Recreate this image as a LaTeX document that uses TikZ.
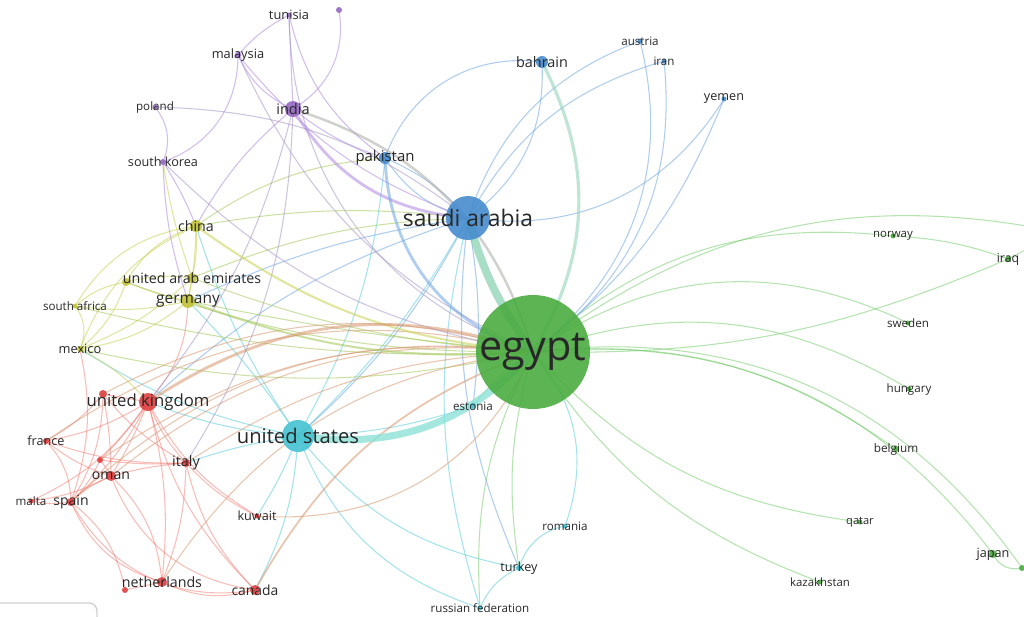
\documentclass[tikz,border=0pt]{standalone}
\usepackage{fontspec}
\setmainfont{Open Sans}
\usetikzlibrary{backgrounds}
% node colours
\definecolor{cgreen}{RGB}{75,172,65}
\definecolor{cblue}{RGB}{70,140,205}
\definecolor{ccyan}{RGB}{70,195,210}
\definecolor{cred}{RGB}{222,65,65}
\definecolor{cpurple}{RGB}{150,105,195}
\definecolor{cyellow}{RGB}{195,195,55}
% link colours
\definecolor{egreen}{RGB}{120,205,110}
\definecolor{eblue}{RGB}{110,165,225}
\definecolor{ecyan}{RGB}{90,205,220}
\definecolor{eyellow}{RGB}{200,210,80}
\definecolor{eolive}{RGB}{165,200,90}
\definecolor{ered}{RGB}{240,110,100}
\definecolor{ebrown}{RGB}{215,150,110}
\definecolor{epurple}{RGB}{175,135,225}
\definecolor{epurpgray}{RGB}{165,150,200}
\definecolor{egray}{RGB}{170,170,165}
\definecolor{eteal}{RGB}{140,210,180}
\definecolor{eusband}{RGB}{140,225,215}
\definecolor{txtgray}{RGB}{40,40,40}
\begin{document}
\begin{tikzpicture}[x=0.2mm,y=0.2mm,
country/.style={circle,inner sep=0pt,minimum size=#1*0.4mm,fill opacity=0.9},
lbl/.style={font=\fontsize{#1}{#1}\selectfont,text=txtgray,inner sep=0pt,fill opacity=1,text opacity=1},
link/.style={line width=0.6pt,draw opacity=0.55},
uibox/.style={draw=black!18,line width=0.8pt}]
\useasboundingbox (0,0) rectangle (1024,-617);

% unlabelled dots
\foreach \n/\x/\y/\r/\c in {purpdot/339/10/3/cpurple, uaedot/126/282/4/cyellow,
  ukdot/103/394/4/cred, reddot/100/460/3/cred, nlddot/125/590/3/cred,
  grndot/1022/568/3/cgreen}
  \node[country=\r,fill=\c] (\n) at (\x,-\y) {};

% countries
\foreach \n/\x/\y/\r/\c/\s/\l in {
  egypt/533/352/57/cgreen/23.5/egypt,
  saudi/468/218/22/cblue/13/saudi arabia,
  usa/298/436/16/ccyan/11.5/united states,
  uk/148/402/9/cred/9.5/united kingdom,
  india/293/109/8/cpurple/8.3/india,
  pakistan/385/158/6/cblue/8.5/pakistan,
  bahrain/542/62/6/cblue/8.2/bahrain,
  austria/640/41/2.5/cblue/6.6/austria,
  iran/664/61/2.5/cblue/6.6/iran,
  yemen/724/99/2.5/cblue/7.2/yemen,
  tunisia/289/15/2.5/cpurple/7.3/tunisia,
  malaysia/238/55/3/cpurple/7.3/malaysia,
  poland/155/107/2.5/cpurple/6.6/poland,
  skorea/163/162/3/cpurple/7.2/south korea,
  china/196/226/6/cyellow/8.1/china,
  uae/192/278/5/cyellow/8.1/united arab emirates,
  germany/188/301/7/cyellow/8.8/germany,
  safrica/75/306/2.5/cyellow/6.6/south africa,
  mexico/80/349/3/cyellow/7.3/mexico,
  france/46/441/3/cred/7.2/france,
  italy/186/463/4/cred/8.2/italy,
  oman/111/476/5/cred/8/oman,
  malta/31/501/2.5/cred/6.6/malta,
  spain/71/502/4/cred/8/spain,
  kuwait/257/516/2.5/cred/7.2/kuwait,
  netherlands/162/582/5/cred/8.1/netherlands,
  canada/255/590/5/cred/7.9/canada,
  estonia/473/406/3/ccyan/6.6/estonia,
  romania/565/526/2.5/ccyan/6.6/romania,
  turkey/519/568/3/ccyan/7.2/turkey,
  russia/480/608/2.5/ccyan/6.6/russian federation,
  norway/893/236/2.5/cgreen/6.5/norway,
  iraq/1008/259/3/cgreen/7/iraq,
  sweden/908/323/2.5/cgreen/6.6/sweden,
  hungary/909/389/2.5/cgreen/6.6/hungary,
  belgium/896/449/3/cgreen/6.7/belgium,
  qatar/860/522/2.5/cgreen/6.3/qatar,
  japan/993/554/4/cgreen/7.2/japan,
  kazakhstan/820/582/2.5/cgreen/6.5/kazakhstan}
  \node[country=\r,fill=\c,label={[lbl=\s]center:\l}] (\n) at (\x,-\y) {};
\coordinate (offR) at (1060,-232);

\begin{scope}[on background layer]
\fill[white] (0,0) rectangle (1024,-617);
% green links
\foreach \a/\b/\t in {egypt/offR/24, egypt/norway/24, norway/iraq/8, egypt/iraq/-12,
  iraq/offR/0, egypt/sweden/30, egypt/hungary/25, egypt/belgium/20, egypt/japan/29,
  egypt/grndot/31, japan/grndot/-40, egypt/qatar/-20, egypt/kazakhstan/-18,
  russia/egypt/15, turkey/egypt/12, estonia/egypt/10}
  \draw[link,egreen] (\a.center) to[bend left=\t] (\b.center);
% blue links
\foreach \a/\b/\t in {egypt/austria/-33, egypt/iran/-30, egypt/yemen/-15,
  saudi/yemen/-33, saudi/austria/25, saudi/iran/22, pakistan/bahrain/39,
  saudi/bahrain/-28, pakistan/saudi/-20, pakistan/saudi/12, saudi/uk/-12,
  saudi/usa/10, saudi/turkey/-15, saudi/estonia/8, saudi/germany/-8}
  \draw[link,eblue] (\a.center) to[bend left=\t] (\b.center);
% cyan links
\foreach \a/\b/\t in {usa/saudi/-8, pakistan/usa/12, usa/germany/-5, usa/china/8,
  usa/mexico/10, usa/uk/8, usa/canada/12, usa/turkey/-20, usa/russia/-25,
  usa/italy/-5, usa/kuwait/5, usa/estonia/-8, egypt/romania/30,
  turkey/romania/30, turkey/russia/-20, saudi/russia/-15}
  \draw[link,ecyan] (\a.center) to[bend left=\t] (\b.center);
% yellow links
\foreach \a/\b/\t in {china/germany/5, china/uae/8, china/uaedot/-20,
  china/mexico/-22, china/safrica/-25, uaedot/germany/-5, uae/germany/0,
  uaedot/uae/10, safrica/uaedot/15, safrica/germany/-10, safrica/mexico/30,
  mexico/uaedot/-15, mexico/germany/-15, mexico/uae/-10, mexico/uk/10,
  skorea/uae/-5}
  \draw[link,eyellow] (\a.center) to[bend left=\t] (\b.center);
\foreach \a/\b/\t in {uae/egypt/-8, uaedot/egypt/-10, mexico/egypt/-12,
  safrica/egypt/-8, china/saudi/8, uae/saudi/10, china/pakistan/15, germany/egypt/-3}
  \draw[link,eolive] (\a.center) to[bend left=\t] (\b.center);
% red links
\foreach \a/\b/\t in {uk/spain/10, uk/oman/5, uk/italy/-10, uk/france/10,
  uk/malta/15, uk/netherlands/10, uk/canada/-15, uk/ukdot/0, uk/kuwait/-15,
  ukdot/spain/15, ukdot/oman/5, ukdot/italy/-10, ukdot/france/10,
  italy/canada/-15, italy/netherlands/10, oman/italy/5, oman/netherlands/20,
  oman/canada/-30, spain/netherlands/-25, spain/canada/-35, spain/oman/10,
  spain/malta/10, spain/france/-20, france/oman/-10, france/italy/-10,
  netherlands/canada/-20, nlddot/spain/-20, nlddot/netherlands/0,
  kuwait/italy/10, reddot/uk/-5, reddot/spain/10, reddot/oman/5,
  reddot/italy/-5, malta/oman/-10, uk/germany/-20, mexico/spain/15}
  \draw[link,ered,draw opacity=0.45] (\a.center) to[bend left=\t] (\b.center);
\foreach \a/\b/\t in {ukdot/egypt/22, italy/egypt/15, oman/egypt/22,
  spain/egypt/25, france/egypt/24, netherlands/egypt/25, kuwait/egypt/-35,
  reddot/egypt/20}
  \draw[link,ebrown] (\a.center) to[bend left=\t] (\b.center);
% purple links
\foreach \a/\b/\t in {tunisia/india/0, tunisia/pakistan/-20, tunisia/malaysia/-10,
  purpdot/india/34, malaysia/india/-20, malaysia/skorea/35, poland/skorea/30,
  skorea/china/5, skorea/germany/-8, india/pakistan/-10, india/china/-10,
  malaysia/saudi/-15}
  \draw[link,epurple] (\a.center) to[bend left=\t] (\b.center);
\foreach \a/\b/\t in {tunisia/egypt/-35, malaysia/egypt/-20, poland/saudi/18,
  skorea/egypt/-17, india/uk/12, india/italy/15}
  \draw[link,epurpgray] (\a.center) to[bend left=\t] (\b.center);
% strong links
\draw[link,eolive,line width=1.2pt] (germany.center) to[bend left=-12] (egypt.center);
\draw[link,eyellow,line width=1.2pt] (china.center) to[bend left=-15] (egypt.center);
\draw[link,ebrown,line width=1pt] (canada.center) to[bend left=20] (egypt.center);
\draw[link,ebrown,line width=1.6pt] (uk.center) to[bend left=26] (egypt.center);
\draw[link,egray,line width=1.4pt] (india.center) to[bend left=28] (egypt.center);
\draw[link,epurple,line width=1.6pt] (india.center) to[bend left=-27] (saudi.center);
\draw[link,eblue,line width=1.6pt] (pakistan.center) to[bend left=-35] (egypt.center);
\draw[link,eteal,line width=1.8pt] (egypt.center) to[bend left=-29] (bahrain.center);
\draw[link,eusband,line width=4pt,draw opacity=0.8] (usa.center) to[bend left=-28] (egypt.center);
\draw[link,eteal,line width=4.5pt,draw opacity=0.75] (saudi.center) to[bend left=-10] (egypt.center);
\end{scope}

% corner of the panel below
\draw[uibox] (0,-603) -- (89,-603) to[out=0,in=90] (97,-611) -- (97,-617);
\end{tikzpicture}
\end{document}
